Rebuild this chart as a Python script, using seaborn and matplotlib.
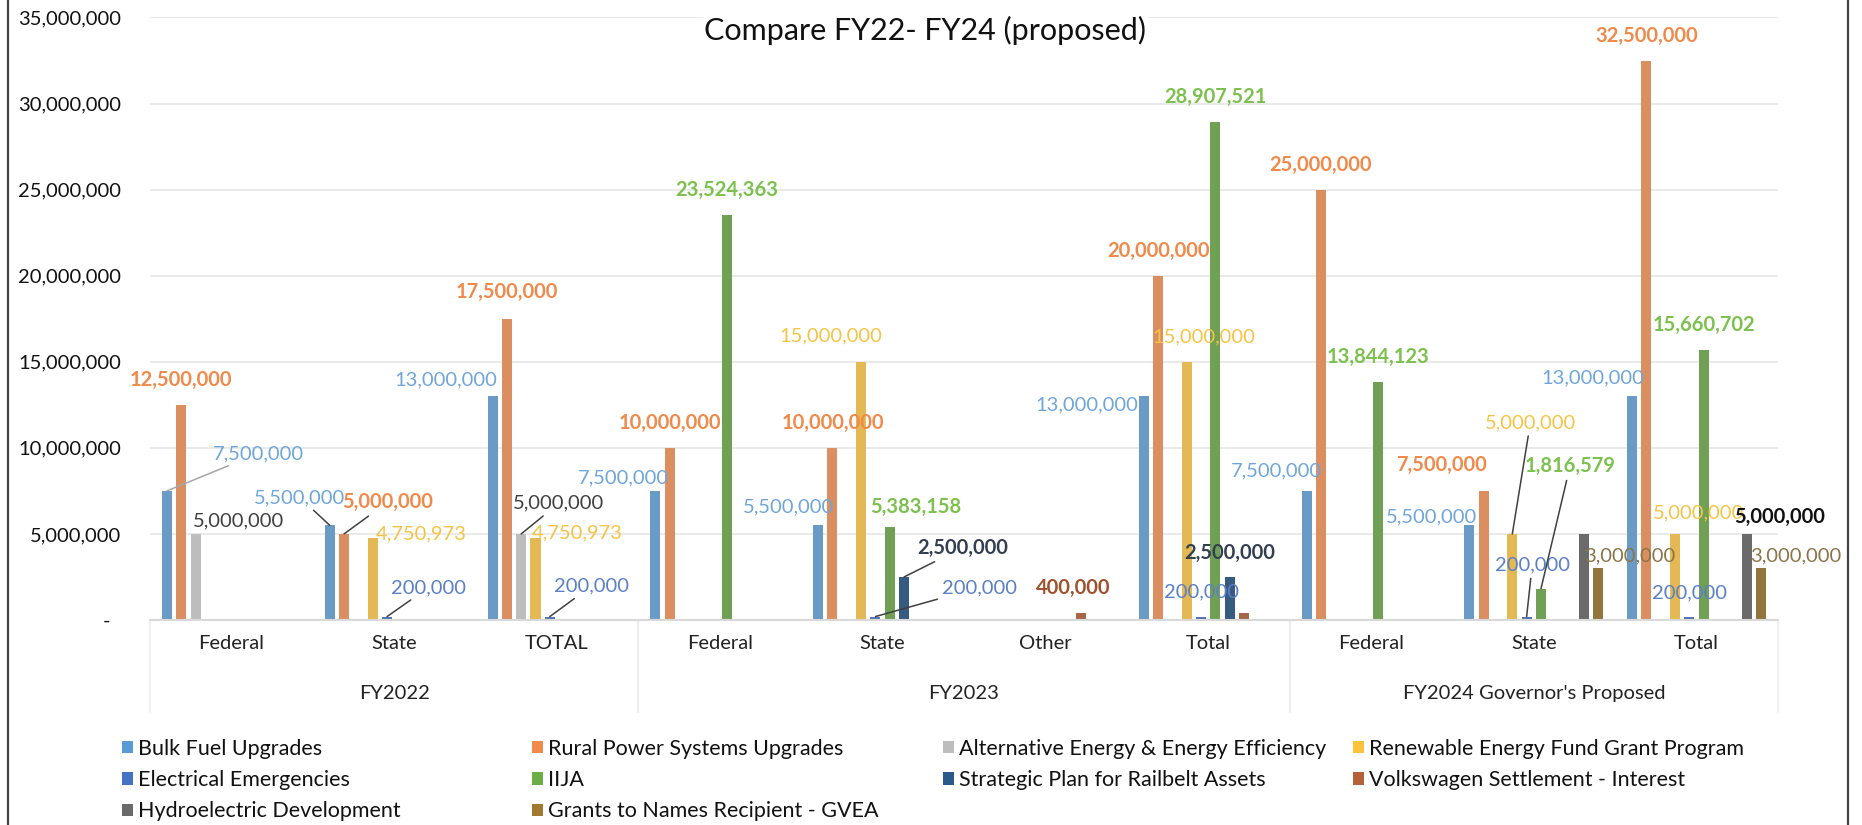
import numpy as np
import pandas as pd
import matplotlib
matplotlib.use("Agg")
import matplotlib.pyplot as plt
import matplotlib.transforms as mtransforms
from matplotlib.lines import Line2D
from matplotlib.patches import Patch
from matplotlib.ticker import FuncFormatter
import seaborn as sns

# ---- data -------------------------------------------------------------
category_labels = ["Federal", "State", "TOTAL",
                   "Federal", "State", "Other", "Total",
                   "Federal", "State", "Total"]
category_groups = ["FY2022"] * 3 + ["FY2023"] * 4 + ["FY2024 Governor's Proposed"] * 3

series = [
    "Bulk Fuel Upgrades",
    "Rural Power Systems Upgrades",
    "Alternative Energy & Energy Efficiency",
    "Renewable Energy Fund Grant Program",
    "Electrical Emergencies",
    "IIJA",
    "Strategic Plan for Railbelt Assets",
    "Volkswagen Settlement - Interest",
    "Hydroelectric Development",
    "Grants to Names Recipient - GVEA",
]

bulk_fuel = [7500000, 5500000, 13000000, 7500000, 5500000, 0, 13000000, 7500000, 5500000, 13000000]
rural_power = [12500000, 5000000, 17500000, 10000000, 10000000, 0, 20000000, 25000000, 7500000, 32500000]
alt_energy = [5000000, 0, 5000000, 0, 0, 0, 0, 0, 0, 0]
renewable_fund = [0, 4750973, 4750973, 0, 15000000, 0, 15000000, 0, 5000000, 5000000]
electrical_emerg = [0, 200000, 200000, 0, 200000, 0, 200000, 0, 200000, 200000]
iija = [0, 0, 0, 23524363, 5383158, 0, 28907521, 13844123, 1816579, 15660702]
railbelt = [0, 0, 0, 0, 2500000, 0, 2500000, 0, 0, 0]
vw_interest = [0, 0, 0, 0, 0, 400000, 400000, 0, 0, 0]
hydro = [0, 0, 0, 0, 0, 0, 0, 0, 5000000, 5000000]
gvea = [0, 0, 0, 0, 0, 0, 0, 0, 3000000, 3000000]

values = [bulk_fuel, rural_power, alt_energy, renewable_fund, electrical_emerg,
          iija, railbelt, vw_interest, hydro, gvea]

# ---- styles -----------------------------------------------------------
bar_colors = ["#5B9BD5", "#F08A4B", "#BDBDBD", "#FCC23A", "#4472C4",
              "#6BAD47", "#2A5A8C", "#B5623A", "#6A6A6A", "#A07A2E"]
label_colors = ["#6FA6DA", "#F08A4B", "#404040", "#F6C445", "#5B80C4",
                "#7CC14E", "#333F50", "#A0522D", "#111111", "#8A7448"]
label_weights = ["normal", "bold", "normal", "normal", "normal",
                 "bold", "bold", "bold", "bold", "normal"]

# (category index, series index): (dx pt, dy pt, leader line)
label_spec = {
    (0, 0): (66, 27, True), (0, 1): (0, 18, False), (0, 2): (31, 9.5, False),
    (1, 0): (-21.5, 20, True), (1, 1): (31.5, 23, True), (1, 3): (35, 3, False), (1, 4): (30, 21, True),
    (2, 0): (-34, 11.5, False), (2, 1): (0, 19, False), (2, 2): (27, 22, True), (2, 3): (30, 4, False),
    (2, 4): (30, 22, True),
    (3, 0): (-23, 9.5, False), (3, 1): (0, 18, False), (3, 5): (0, 18, False),
    (4, 0): (-21.5, 13, False), (4, 1): (0, 18, False), (4, 3): (-21.5, 19, False),
    (4, 4): (75, 21, True), (4, 5): (19, 14.5, False), (4, 6): (42, 21, True),
    (5, 7): (-6, 18, False),
    (6, 0): (-41, -6, False), (6, 1): (0, 18, False), (6, 3): (12, 18, False),
    (6, 4): (0, 18, False), (6, 5): (0, 18, False), (6, 6): (0, 17.5, False),
    (7, 0): (-22, 14.5, False), (7, 1): (0, 18, False), (7, 5): (0, 18, False),
    (8, 0): (-27, 6, False), (8, 1): (-30, 19, False), (8, 3): (13, 80, True),
    (8, 4): (4, 37, True), (8, 5): (21, 88.5, True), (8, 9): (23, 9, False),
    (9, 0): (-28, 13, False), (9, 1): (0, 18, False), (9, 3): (16.5, 15, False),
    (9, 4): (0, 17, False), (9, 5): (0, 18, False), (9, 8): (24, 12, False),
    (9, 9): (25, 9, False),
}

categories = [f"{g}|{c}|{i}" for i, (g, c) in enumerate(zip(category_groups, category_labels))]

rows = []
for s, vals in zip(series, values):
    for cat, v in zip(categories, vals):
        rows.append({"Category": cat, "Program": s, "Amount": v})
df = pd.DataFrame(rows)

# ---- plot -------------------------------------------------------------
sns.set_style("white")
plt.rcParams["font.family"] = ["Lato", "DejaVu Sans"]

W, H = 1862, 825
fig = plt.figure(figsize=(W / 100, H / 100), dpi=100)
ax = fig.add_axes([150 / W, 1 - 620 / H, 1628 / W, 602.5 / H])

sns.barplot(data=df, x="Category", y="Amount", hue="Program",
            order=categories, hue_order=series, palette=bar_colors,
            width=0.88, gap=0.3, errorbar=None, linewidth=0,
            legend=False, ax=ax)

ax.set_xlim(-0.5, len(categories) - 0.5)
ax.set_ylim(0, 35000000)
ax.set_yticks(np.arange(0, 35000001, 5000000))
ax.yaxis.set_major_formatter(FuncFormatter(lambda v, p: "-  " if v == 0 else f"{v:,.0f}"))
ax.grid(axis="y", color="#E6E6E6", linewidth=1.2)
ax.set_axisbelow(True)
for sp in ["left", "right", "top"]:
    ax.spines[sp].set_visible(False)
ax.spines["bottom"].set_color("#D9D9D9")
ax.spines["bottom"].set_linewidth(1.5)

ax.set_xticks(range(len(categories)))
ax.set_xticklabels(category_labels)
ax.tick_params(axis="x", length=0, pad=11, labelsize=14.5, labelcolor="#222222")
ax.tick_params(axis="y", length=0, pad=21, labelsize=14.5, labelcolor="#111111")
ax.set_xlabel("")
ax.set_ylabel("")

# group labels + separators of the two-level axis
trans = mtransforms.blended_transform_factory(ax.transData, ax.transAxes)
groups = []
for i, g in enumerate(category_groups):
    if not groups or groups[-1][0] != g:
        groups.append([g, i, i])
    else:
        groups[-1][2] = i
for g, i0, i1 in groups:
    ax.text((i0 + i1) / 2, -0.1228, g, transform=trans, ha="center", va="center",
            fontsize=14.5, color="#222222")
    for xb in (i0 - 0.5, i1 + 0.5):
        ax.plot([xb, xb], [0, -0.153], transform=trans, color="#ECECEC",
                lw=1.2, clip_on=False)

# data labels
for (ci, si), (dx, dy, leader) in label_spec.items():
    bar = ax.containers[si][ci]
    x = bar.get_x() + bar.get_width() / 2
    y = bar.get_height()
    kw = {}
    if leader:
        line_col = "#A6A6A6" if (ci, si) == (0, 0) else "#404040"
        kw["arrowprops"] = dict(arrowstyle="-", color=line_col, lw=1.1,
                                shrinkA=1, shrinkB=0)
    ax.annotate(f"{values[si][ci]:,}", xy=(x, y), xytext=(dx, dy),
                textcoords="offset points", ha="center", va="center",
                fontsize=14.5, color=label_colors[si],
                fontweight=label_weights[si], annotation_clip=False, **kw)

# title
fig.text(925.5 / W, 1 - 30 / H, "Compare FY22- FY24 (proposed)", ha="center",
         va="center", fontsize=22, color="#111111",
         bbox=dict(facecolor="white", edgecolor="none", pad=1))

# legend: four columns, filled row by row
col_x = [122, 532, 943, 1353]
for k, cx in enumerate(col_x):
    idx = list(range(k, len(series), 4))
    handles = [Patch(facecolor=bar_colors[i], edgecolor="none") for i in idx]
    fig.legend(handles, [series[i] for i in idx], loc="upper left",
               bbox_to_anchor=(cx / W, 1 - 739 / H), frameon=False,
               fontsize=15.5, handlelength=0.5, handleheight=0.5,
               handletextpad=0.25, labelspacing=0.52, borderpad=0,
               borderaxespad=0, labelcolor="#111111")

# page frame lines
for fx in (8 / W, 1848 / W):
    fig.add_artist(Line2D([fx, fx], [0, 1], transform=fig.transFigure,
                          color="#444444", lw=1.6))

fig.savefig("out.png", dpi=100)
